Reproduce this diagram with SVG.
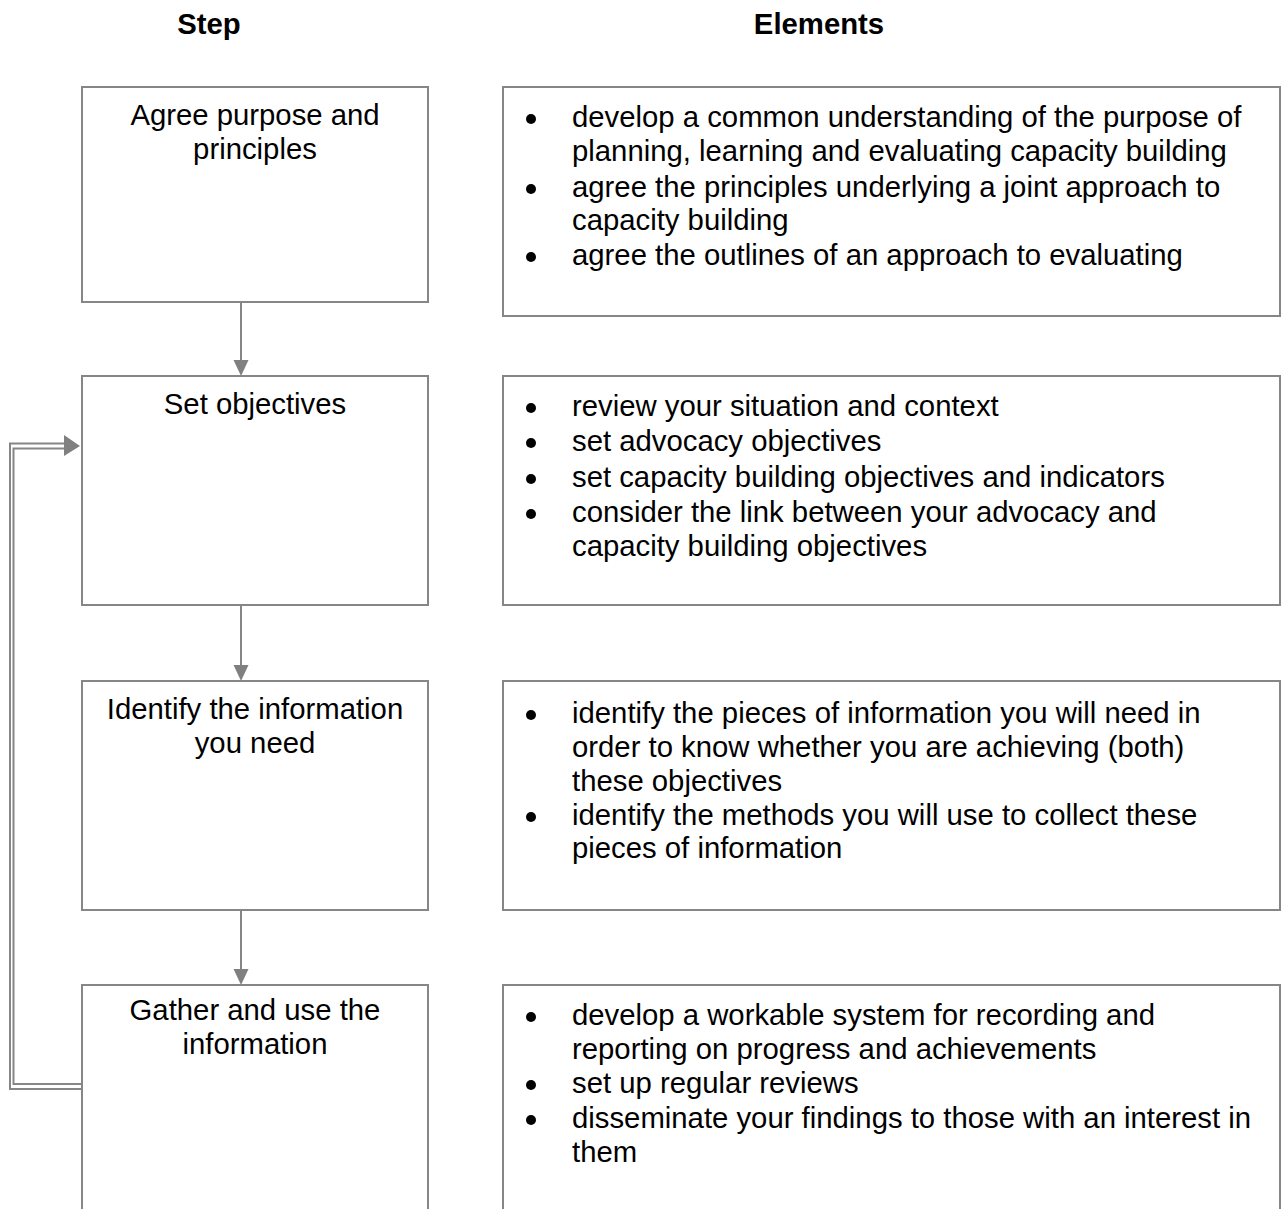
<svg xmlns="http://www.w3.org/2000/svg" width="1281" height="1209" viewBox="0 0 1281 1209">
<style>
  .box { fill: #ffffff; stroke: #868686; stroke-width: 2; }
  .t { font-family: "Liberation Sans", Arial, sans-serif; font-size: 29.3px; fill: #000000; }
  .c { text-anchor: middle; }
  .h { font-weight: bold; }
  .ln { fill: none; stroke: #868686; stroke-width: 2; }
  .ah { fill: #808080; }
  .dot { fill: #000000; }
</style>
<rect width="1281" height="1209" fill="#ffffff"/>
<g id="headers">
  <text class="t h c" x="209" y="34">Step</text>
  <text class="t h c" x="819" y="34">Elements</text>
</g>
<g id="connectors">
  <line class="ln" x1="241" y1="302" x2="241" y2="362"/>
  <polygon class="ah" points="233.5,360 248.5,360 241,376"/>
  <line class="ln" x1="241" y1="605" x2="241" y2="667"/>
  <polygon class="ah" points="233.5,665 248.5,665 241,681"/>
  <line class="ln" x1="241" y1="910" x2="241" y2="971"/>
  <polygon class="ah" points="233.5,969 248.5,969 241,985"/>
  <path class="ln" d="M81,1089 H10 V443.5 H66"/>
  <path class="ln" d="M81,1084 H13.5 V448.5 H66"/>
  <polygon class="ah" points="64,435 80,446 64,456"/>
</g>
<g id="step1">
  <rect class="box" x="82" y="87" width="346" height="215"/>
  <text class="t c" x="255" y="125">Agree purpose and</text>
  <text class="t c" x="255" y="159">principles</text>
</g>
<g id="step2">
  <rect class="box" x="82" y="376" width="346" height="229"/>
  <text class="t c" x="255" y="414">Set objectives</text>
</g>
<g id="step3">
  <rect class="box" x="82" y="681" width="346" height="229"/>
  <text class="t c" x="255" y="719">Identify the information</text>
  <text class="t c" x="255" y="753">you need</text>
</g>
<g id="step4">
  <rect class="box" x="82" y="985" width="346" height="260"/>
  <text class="t c" x="255" y="1020">Gather and use the</text>
  <text class="t c" x="255" y="1054">information</text>
</g>
<g id="elements1">
  <rect class="box" x="503" y="87" width="777" height="229"/>
  <circle class="dot" cx="531" cy="119" r="5"/>
  <text class="t" x="572" y="127">develop a common understanding of the purpose of</text>
  <text class="t" x="572" y="161">planning, learning and evaluating capacity building</text>
  <circle class="dot" cx="531" cy="189" r="5"/>
  <text class="t" x="572" y="197">agree the principles underlying a joint approach to</text>
  <text class="t" x="572" y="230">capacity building</text>
  <circle class="dot" cx="531" cy="257" r="5"/>
  <text class="t" x="572" y="265">agree the outlines of an approach to evaluating</text>
</g>
<g id="elements2">
  <rect class="box" x="503" y="376" width="777" height="229"/>
  <circle class="dot" cx="531" cy="408" r="5"/>
  <text class="t" x="572" y="416">review your situation and context</text>
  <circle class="dot" cx="531" cy="443" r="5"/>
  <text class="t" x="572" y="451">set advocacy objectives</text>
  <circle class="dot" cx="531" cy="479" r="5"/>
  <text class="t" x="572" y="487">set capacity building objectives and indicators</text>
  <circle class="dot" cx="531" cy="514" r="5"/>
  <text class="t" x="572" y="522">consider the link between your advocacy and</text>
  <text class="t" x="572" y="556">capacity building objectives</text>
</g>
<g id="elements3">
  <rect class="box" x="503" y="681" width="777" height="229"/>
  <circle class="dot" cx="531" cy="715" r="5"/>
  <text class="t" x="572" y="723">identify the pieces of information you will need in</text>
  <text class="t" x="572" y="757">order to know whether you are achieving (both)</text>
  <text class="t" x="572" y="791">these objectives</text>
  <circle class="dot" cx="531" cy="817" r="5"/>
  <text class="t" x="572" y="825">identify the methods you will use to collect these</text>
  <text class="t" x="572" y="858">pieces of information</text>
</g>
<g id="elements4">
  <rect class="box" x="503" y="985" width="777" height="260"/>
  <circle class="dot" cx="531" cy="1017" r="5"/>
  <text class="t" x="572" y="1025">develop a workable system for recording and</text>
  <text class="t" x="572" y="1059">reporting on progress and achievements</text>
  <circle class="dot" cx="531" cy="1085" r="5"/>
  <text class="t" x="572" y="1093">set up regular reviews</text>
  <circle class="dot" cx="531" cy="1120" r="5"/>
  <text class="t" x="572" y="1128">disseminate your findings to those with an interest in</text>
  <text class="t" x="572" y="1162">them</text>
</g>
</svg>
